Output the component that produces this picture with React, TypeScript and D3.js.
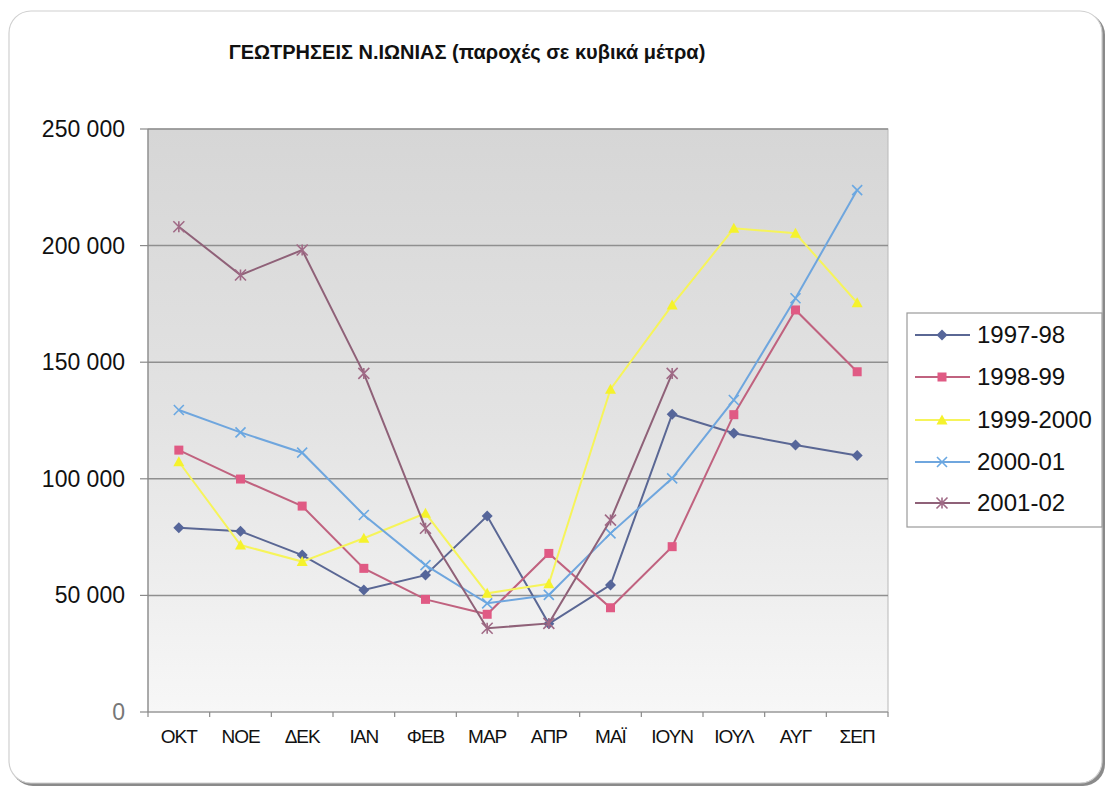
import React from "react";
import * as d3 from "d3";

const months = ["ΟΚΤ", "ΝΟΕ", "ΔΕΚ", "ΙΑΝ", "ΦΕΒ", "ΜΑΡ", "ΑΠΡ", "ΜΑΪ", "ΙΟΥΝ", "ΙΟΥΛ", "ΑΥΓ", "ΣΕΠ"];
const yTicks = [0, 50000, 100000, 150000, 200000, 250000];

const s1997 = [79000, 77500, 67300, 52300, 58700, 84000, 37800, 54500, 127700, 119500, 114500, 110000];
const s1998 = [112300, 99900, 88300, 61600, 48300, 41900, 68000, 44700, 70900, 127500, 172400, 145900];
const s1999 = [107300, 71600, 64500, 74500, 85200, 50900, 55000, 138400, 174500, 207400, 205300, 175500];
const s2000 = [129500, 119900, 111200, 84500, 63000, 46600, 50200, 76600, 100200, 133800, 177400, 223800];
const s2001: (number | null)[] = [208100, 187400, 198100, 145200, 78800, 35900, 38000, 82300, 145200, null, null, null];

const seriesNames = ["1997-98", "1998-99", "1999-2000", "2000-01", "2001-02"];
const seriesValues = [s1997, s1998, s1999, s2000, s2001];
const lineColors = ["#5a6794", "#c0627f", "#f6f45a", "#6fa6de", "#8f6178"];
const markerColors = ["#56669a", "#e05a84", "#f5f22c", "#6aa8e2", "#a06a86"];
const markerTypes = ["diamond", "square", "triangle", "x", "star"];

function Marker({ type, x, y, color }: { type: string; x: number; y: number; color: string }) {
  if (type === "diamond") {
    const r = 5.5;
    return <path d={`M${x},${y - r}L${x + r},${y}L${x},${y + r}L${x - r},${y}Z`} fill={color} />;
  }
  if (type === "square") {
    const r = 4.5;
    return <rect x={x - r} y={y - r} width={2 * r} height={2 * r} fill={color} />;
  }
  if (type === "triangle") {
    const r = 5.5;
    return <path d={`M${x},${y - r}L${x + r},${y + r * 0.8}L${x - r},${y + r * 0.8}Z`} fill={color} />;
  }
  if (type === "x") {
    const r = 5;
    return (
      <path d={`M${x - r},${y - r}L${x + r},${y + r}M${x - r},${y + r}L${x + r},${y - r}`} stroke={color} strokeWidth={1.6} fill="none" />
    );
  }
  const r = 5.5;
  return (
    <path
      d={`M${x - r},${y - r}L${x + r},${y + r}M${x - r},${y + r}L${x + r},${y - r}M${x},${y - r}L${x},${y + r}`}
      stroke={color}
      strokeWidth={1.6}
      fill="none"
    />
  );
}

export default function App() {
  const W = 1108;
  const H = 788;
  const left = 148;
  const right = 888;
  const top = 129;
  const bottom = 712;

  const x = d3.scaleBand<string>().domain(months).range([left, right]).padding(0);
  const y = d3.scaleLinear().domain([0, 250000]).range([bottom, top]);
  const cx = (m: string) => (x(m) as number) + x.bandwidth() / 2;
  const fmt = (v: number) => d3.format(",")(v).replace(/,/g, " ");

  const line = d3
    .line<number | null>()
    .defined((d) => d !== null)
    .x((_, i) => cx(months[i]))
    .y((d) => y(d as number));

  const font = "'Liberation Sans', Arial, sans-serif";
  const legendRows = [335, 377, 420, 462, 503];

  return (
    <svg width={W} height={H} style={{ position: "absolute", left: 0, top: 0 }} fontFamily={font}>
      <defs>
        <linearGradient id="plotbg" x1="0" y1="0" x2="0" y2="1">
          <stop offset="0" stopColor="#d6d6d6" />
          <stop offset="0.5" stopColor="#e3e3e3" />
          <stop offset="1" stopColor="#f7f7f7" />
        </linearGradient>
      </defs>
      <rect x={0} y={0} width={W} height={H} fill="#ffffff" />
      {/* card shadow + border */}
      <rect x={11} y={13} width={1094} height={773} rx={22} fill="#8a8a8a" />
      <rect x={9} y={11} width={1093} height={772} rx={22} fill="#ffffff" stroke="#d0d0d0" strokeWidth={1.2} />

      {/* title */}
      <text x={467} y={59} textAnchor="middle" fontSize={20} fontWeight="bold" fill="#111">
        ΓΕΩΤΡΗΣΕΙΣ Ν.ΙΩΝΙΑΣ (παροχές σε κυβικά μέτρα)
      </text>

      {/* plot area */}
      <rect x={left} y={top} width={right - left} height={bottom - top} fill="url(#plotbg)" stroke="#b8b8b8" strokeWidth={1} />
      {yTicks.filter((t) => t > 0).map((t) => (
        <line key={t} x1={left} x2={right} y1={y(t)} y2={y(t)} stroke="#8f8f8f" strokeWidth={1.5} />
      ))}
      {/* axes */}
      <line x1={left} x2={left} y1={top} y2={bottom} stroke="#8a8a8a" strokeWidth={1.2} />
      <line x1={left} x2={right} y1={bottom} y2={bottom} stroke="#8a8a8a" strokeWidth={1.2} />
      {yTicks.map((t) => (
        <g key={t}>
          <line x1={left - 8} x2={left} y1={y(t)} y2={y(t)} stroke="#8a8a8a" strokeWidth={1.2} />
          <text x={125} y={y(t)} dy="0.35em" textAnchor="end" fontSize={23} fill={t === 0 ? "#777" : "#111"}>
            {fmt(t)}
          </text>
        </g>
      ))}
      {months.map((m) => (
        <line key={"t" + m} x1={x(m) as number} x2={x(m) as number} y1={bottom} y2={bottom + 5} stroke="#8a8a8a" strokeWidth={1.2} />
      ))}
      <line x1={right} x2={right} y1={bottom} y2={bottom + 5} stroke="#8a8a8a" strokeWidth={1.2} />
      {months.map((m) => (
        <text key={"l" + m} x={cx(m)} y={743} textAnchor="middle" fontSize={19} fill="#111" letterSpacing={-1}>
          {m}
        </text>
      ))}

      {/* series */}
      {seriesValues.map((vals, si) => (
        <g key={seriesNames[si]}>
          <path d={line(vals) || ""} fill="none" stroke={lineColors[si]} strokeWidth={2} />
          {vals.map((v, i) =>
            v === null ? null : <Marker key={i} type={markerTypes[si]} x={cx(months[i])} y={y(v)} color={markerColors[si]} />
          )}
        </g>
      ))}

      {/* legend */}
      <rect x={907} y={313} width={195} height={214} fill="#ffffff" stroke="#9a9a9a" strokeWidth={1.2} />
      {seriesNames.map((n, si) => (
        <g key={"lg" + n}>
          <line x1={915} x2={970} y1={legendRows[si]} y2={legendRows[si]} stroke={lineColors[si]} strokeWidth={2} />
          <Marker type={markerTypes[si]} x={942} y={legendRows[si]} color={markerColors[si]} />
          <text x={977} y={legendRows[si]} dy="0.35em" fontSize={24} fill="#111">
            {n}
          </text>
        </g>
      ))}
    </svg>
  );
}
